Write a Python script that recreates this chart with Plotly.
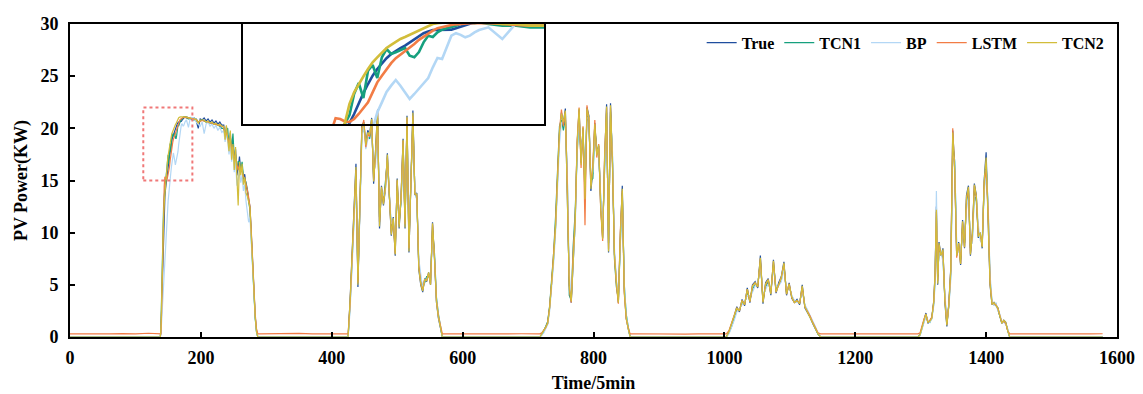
import plotly.graph_objects as go

# ---------------- time grid (index of 5-min steps) ----------------
t_n1 = [0, 20, 40, 60, 80, 100, 120, 137]
t_h1 = list(range(138, 177)) + list(range(178, 233, 3)) + list(range(235, 288, 2))
t_n2 = [290, 310, 330, 350, 370, 390, 410, 422]
t_h2 = list(range(425, 570, 3))
t_n3 = [572, 590, 610, 630, 650, 670, 690, 715]
t_h3 = list(range(718, 857, 3))
t_n4 = [860, 880, 900, 920, 940, 960, 980, 1000]
t_h4 = list(range(1003, 1148, 4))
t_n5 = [1150, 1170, 1190, 1210, 1230, 1250, 1270, 1293]
t_h5 = list(range(1296, 1321, 3)) + [1322, 1324, 1326, 1328] + list(range(1331, 1437, 3))
t_n6 = [1439, 1460, 1480, 1500, 1520, 1540, 1560, 1578]
time = t_n1 + t_h1 + t_n2 + t_h2 + t_n3 + t_h3 + t_n4 + t_h4 + t_n5 + t_h5 + t_n6

night0 = [0, 0, 0, 0, 0, 0, 0, 0]

# ---------------- True ----------------
true_h1 = [0.0, 0.5, 3.0, 6.0, 8.5, 10.5, 12.2, 13.4, 14.2, 14.6, 15.05, 15.6, 16.25, 16.85, 17.4, 17.9,
           18.3, 18.65, 18.95, 19.2, 19.4, 19.55, 19.7, 19.9, 20.1, 20.3, 20.45, 20.55, 20.64, 20.64, 20.64,
           20.64, 20.66, 20.75, 20.85, 20.95, 21.02, 21.08, 21.1,
           21.1, 21.0, 21.0, 20.9, 21.0, 20.7, 20.0, 20.9, 20.8, 21.0, 20.7, 20.9, 20.6, 20.8, 20.5, 20.7, 20.4, 20.6, 20.3,
           20.3, 19.0, 20.2, 19.4, 18.2, 19.6, 17.5, 18.8, 16.8, 18.0, 15.5, 16.2, 17.3, 15.8, 16.4, 15.0, 15.6,
           14.5, 14.0, 13.2, 12.5, 10.0, 7.0, 4.5, 2.0, 0.6, 0.0]
true_h2 = [0.0, 3.5, 7.8, 12.0, 16.6, 4.8, 13.0, 20.2, 20.6, 18.5, 19.8, 19.5, 21.0, 14.7, 18.0, 21.8, 10.4,
           14.5, 12.6, 14.2, 17.6, 13.0, 9.7, 11.5, 7.8, 15.2, 10.4, 13.6, 19.0, 10.4, 21.2, 8.1, 16.0, 21.7,
           13.6, 13.8, 6.5, 5.0, 4.3, 5.6, 5.3, 6.2, 5.0, 11.0, 7.5, 3.3, 1.8, 1.0, 0.0]
true_h3 = [0.0, 0.3, 0.6, 0.9, 1.3, 2.8, 5.0, 7.5, 10.5, 15.0, 19.5, 21.5, 20.5, 21.9, 14.0, 5.0, 3.3, 8.0,
           11.0, 18.5, 21.8, 16.7, 20.0, 13.5, 22.0, 21.2, 14.0, 16.0, 20.5, 17.5, 18.3, 12.5, 9.5, 17.0, 22.3,
           8.1, 22.4, 16.7, 8.0, 5.3, 3.3, 9.7, 14.5, 4.5, 1.8, 0.8, 0.0]
true_h4 = [0.0, 0.5, 1.2, 2.0, 2.9, 2.4, 3.6, 3.0, 4.7, 3.3, 5.0, 5.3, 4.7, 7.8, 3.2, 5.2, 5.6, 4.0, 7.4, 4.2,
           5.2, 5.8, 7.2, 4.0, 5.2, 3.7, 3.3, 3.6, 3.1, 5.0, 2.8, 2.4, 1.9, 1.3, 0.8, 0.3, 0.0]
true_h5 = [0.0, 0.2, 1.0, 1.6, 2.3, 1.3, 1.5, 1.8, 3.5, 6.2, 12.5, 5.0, 9.1, 7.8, 8.5, 3.3, 1.0, 3.2, 6.6,
           19.8, 16.1, 7.8, 9.1, 6.9, 11.2, 8.5, 13.6, 14.5, 7.8, 10.0, 14.7, 13.6, 9.5, 10.0, 8.5, 15.0, 17.7,
           11.9, 5.0, 3.1, 3.3, 3.0, 2.8, 2.0, 1.3, 1.6, 1.4, 0.6, 0.0]

# ---------------- TCN1 ----------------
tcn1_h1 = [0.0, 1.0, 4.5, 8.0, 10.5, 12.5, 13.5, 14.2, 14.6, 15.0, 15.54, 16.8, 17.46, 16.56, 18.2, 18.54,
           17.76, 19.0, 19.5, 19.2, 19.3, 19.45, 19.56, 19.1, 19.0, 19.32, 19.9, 20.3, 20.22, 20.5, 20.66,
           20.75, 20.82, 20.9, 21.02, 21.1, 21.1, 21.05, 21.1,
           21.0, 20.9, 20.9, 20.8, 20.8, 20.9, 20.6, 20.7, 20.8, 20.7, 20.6, 20.6, 20.5, 20.5, 20.4, 20.4, 20.3, 20.2, 20.0,
           20.0, 19.3, 19.8, 20.0, 18.0, 19.2, 18.0, 19.5, 17.2, 17.5, 16.0, 16.8, 16.8, 16.0, 16.8, 15.3, 15.2,
           14.8, 14.2, 13.0, 12.2, 9.5, 6.5, 4.0, 1.8, 0.5, 0.0]
tcn1_h2 = [0.0, 3.0, 7.0, 12.5, 15.5, 5.5, 12.0, 19.5, 20.0, 18.8, 19.2, 19.0, 20.3, 15.5, 17.2, 21.0, 11.5,
           13.8, 13.0, 14.8, 16.8, 13.5, 10.5, 11.0, 8.5, 14.5, 11.0, 13.0, 18.3, 11.2, 20.5, 9.0, 15.5, 20.8,
           14.0, 13.2, 7.0, 5.5, 4.8, 5.2, 5.8, 5.8, 5.5, 10.2, 8.0, 3.8, 2.2, 1.2, 0.0]
tcn1_h3 = [0.0, 0.2, 0.5, 1.0, 1.5, 3.0, 5.5, 8.0, 11.5, 16.0, 20.2, 20.8, 19.8, 21.0, 15.2, 4.0, 3.5, 8.8,
           12.0, 17.5, 21.0, 17.5, 19.5, 14.5, 21.2, 20.5, 15.0, 15.2, 19.8, 18.2, 17.5, 13.2, 10.2, 16.2, 21.5,
           9.0, 21.6, 17.2, 7.5, 4.8, 3.6, 9.0, 13.8, 5.0, 2.2, 1.0, 0.0]
tcn1_h4 = [0.0, 0.4, 1.0, 1.8, 2.6, 2.6, 3.3, 3.2, 4.3, 3.6, 4.6, 5.0, 5.0, 7.2, 3.6, 4.8, 5.3, 4.4, 6.9, 4.5,
           5.0, 5.5, 6.8, 4.3, 4.9, 3.9, 3.4, 3.4, 3.3, 4.6, 3.0, 2.5, 2.0, 1.4, 0.9, 0.3, 0.0]
tcn1_h5 = [0.0, 0.2, 0.9, 1.5, 2.1, 1.5, 1.4, 1.9, 3.2, 5.5, 11.5, 5.8, 8.2, 8.0, 7.6, 3.8, 1.3, 3.0, 6.0,
           18.5, 16.8, 8.5, 8.6, 7.4, 10.5, 9.0, 12.8, 14.0, 8.5, 9.4, 14.0, 13.0, 10.2, 9.6, 9.0, 14.2, 16.5,
           12.5, 5.5, 3.3, 3.1, 3.2, 2.6, 2.1, 1.4, 1.5, 1.3, 0.7, 0.0]

# ---------------- BP ----------------
bp_h1 = [0.0, 0.3, 1.5, 2.8, 4.2, 5.6, 7.0, 8.3, 9.5, 10.6, 11.6, 12.4, 13.1, 13.7, 14.2, 14.7, 15.7, 16.3,
         16.92, 17.3, 17.64, 17.3, 16.9, 16.5, 16.8, 17.1, 17.4, 17.76, 18.4, 18.96, 18.9, 19.6, 20.3, 20.45,
         20.35, 20.2, 20.3, 20.5, 20.64,
         20.8, 20.1, 21.05, 21.0, 21.0, 20.6, 20.4, 20.2, 20.6, 19.5, 20.4, 20.6, 20.2, 20.4, 20.0, 20.3, 19.8, 20.1, 19.6,
         19.8, 18.7, 19.5, 18.8, 17.5, 18.6, 16.8, 17.9, 15.8, 17.0, 14.5, 15.2, 16.0, 14.8, 15.5, 14.0, 14.6,
         13.0, 11.8, 11.0, 11.5, 9.0, 6.8, 4.4, 2.0, 0.6, 0.0]
bp_h2 = [0.0, 2.5, 6.5, 11.0, 15.0, 6.5, 11.5, 19.0, 20.3, 18.0, 19.0, 19.8, 20.0, 16.0, 16.5, 20.5, 12.0,
         14.0, 13.5, 14.0, 17.0, 14.0, 10.8, 11.2, 9.0, 14.0, 11.5, 13.2, 17.5, 12.0, 20.0, 9.8, 15.0, 20.2,
         14.5, 13.0, 7.5, 5.8, 4.6, 5.4, 5.5, 6.0, 5.2, 9.5, 7.8, 3.6, 2.0, 1.1, 0.0]
bp_h3 = [0.0, 0.2, 0.4, 0.8, 1.2, 2.5, 4.6, 7.0, 10.0, 14.2, 18.5, 20.5, 20.8, 20.8, 15.5, 6.0, 4.0, 7.5,
         10.5, 17.8, 21.2, 17.8, 19.2, 14.8, 21.0, 21.0, 15.5, 15.8, 19.5, 18.0, 17.8, 13.5, 10.5, 16.0, 21.5,
         9.5, 21.0, 17.8, 8.5, 5.5, 3.8, 8.8, 13.5, 5.2, 2.0, 0.9, 0.0]
bp_h4 = [0.0, 0.3, 0.9, 1.6, 2.4, 2.7, 3.1, 3.4, 4.0, 3.8, 4.3, 4.9, 5.2, 6.8, 4.0, 4.6, 5.1, 4.6, 6.5, 4.8,
         4.9, 5.3, 6.5, 4.6, 4.8, 4.0, 3.5, 3.3, 3.4, 4.4, 3.1, 2.6, 2.1, 1.5, 1.0, 0.4, 0.0]
bp_h5 = [0.0, 0.1, 0.8, 1.3, 2.0, 1.6, 1.4, 1.7, 3.0, 5.0, 14.0, 6.0, 8.0, 8.2, 7.2, 4.2, 1.5, 2.8, 5.5,
         17.5, 17.0, 9.0, 8.2, 7.8, 10.0, 9.4, 12.2, 13.5, 9.0, 9.0, 13.5, 13.5, 10.8, 9.2, 9.5, 13.8, 16.0,
         13.0, 6.0, 3.5, 3.0, 3.3, 2.5, 2.2, 1.5, 1.4, 1.2, 0.8, 0.0]

# ---------------- LSTM ----------------
lstm_n1 = [0.30, 0.28, 0.31, 0.29, 0.33, 0.30, 0.36, 0.30]
lstm_n2 = [0.29, 0.31, 0.30, 0.34, 0.29, 0.32, 0.30, 0.31]
lstm_n3 = [0.30, 0.28, 0.32, 0.30, 0.29, 0.33, 0.31, 0.30]
lstm_n4 = [0.31, 0.29, 0.30, 0.32, 0.28, 0.30, 0.31, 0.30]
lstm_n5 = [0.30, 0.32, 0.29, 0.31, 0.30, 0.28, 0.33, 0.30]
lstm_n6 = [0.30, 0.29, 0.31, 0.30, 0.32, 0.29, 0.30, 0.31]
lstm_h1 = [0.3, 0.3, 2.5, 6.0, 9.5, 12.5, 14.5, 15.35, 15.3, 15.15, 15.12, 15.3, 15.6, 15.95, 16.3, 16.9,
           17.5, 17.9, 18.3, 18.65, 18.95, 19.15, 19.35, 19.55, 19.8, 20.05, 20.25, 20.45, 20.6, 20.75, 20.82,
           20.88, 20.94, 20.98, 21.02, 21.05, 21.05, 21.05, 21.05,
           21.05, 21.0, 20.95, 20.9, 20.9, 20.85, 20.6, 20.7, 20.75, 20.7, 20.65, 20.6, 20.55, 20.5, 20.45, 20.4, 20.35, 20.3, 20.2,
           20.1, 19.4, 19.6, 19.2, 18.6, 18.9, 18.0, 18.2, 17.3, 17.2, 16.4, 16.0, 16.5, 16.0, 15.9, 15.4, 15.2,
           14.7, 14.1, 13.4, 12.5, 10.2, 7.2, 4.6, 2.2, 0.8, 0.3]
lstm_h2 = [0.3, 3.2, 7.5, 12.2, 16.0, 5.2, 12.5, 20.0, 20.8, 18.2, 19.5, 19.2, 20.8, 15.0, 17.5, 21.5, 11.0,
           14.2, 12.8, 14.5, 17.2, 13.2, 10.0, 11.2, 8.0, 15.0, 10.8, 13.5, 18.8, 10.8, 21.0, 8.5, 15.8, 21.2,
           13.8, 13.5, 6.8, 5.2, 4.5, 5.5, 5.4, 6.1, 5.1, 10.8, 7.6, 3.5, 2.0, 1.2, 0.3]
lstm_h3 = [0.3, 0.4, 0.6, 0.9, 1.4, 2.9, 5.2, 7.8, 10.8, 15.5, 19.8, 21.8, 20.2, 21.5, 14.5, 4.6, 3.3, 8.2,
           11.2, 18.8, 22.0, 16.2, 20.2, 10.7, 22.2, 20.8, 14.5, 16.5, 20.8, 17.2, 18.5, 12.2, 9.2, 17.5, 22.0,
           8.4, 22.0, 16.5, 7.8, 5.0, 3.2, 10.2, 14.0, 4.2, 1.7, 0.9, 0.3]
lstm_h4 = [0.3, 0.6, 1.3, 2.1, 2.8, 2.5, 3.5, 3.1, 4.6, 3.4, 4.9, 5.2, 4.8, 7.5, 3.4, 5.0, 5.5, 4.2, 7.2, 4.3,
           5.1, 5.7, 7.0, 4.1, 5.1, 3.8, 3.3, 3.5, 3.2, 4.8, 2.9, 2.5, 2.0, 1.4, 0.9, 0.4, 0.3]
lstm_h5 = [0.3, 0.4, 1.1, 1.7, 2.2, 1.4, 1.6, 1.9, 3.4, 6.0, 12.0, 5.4, 8.8, 7.9, 8.2, 3.6, 1.2, 3.1, 6.4,
           20.0, 15.8, 7.6, 9.0, 7.0, 11.0, 8.6, 13.2, 14.2, 8.0, 9.8, 14.5, 13.4, 9.8, 9.9, 8.7, 14.8, 16.0,
           12.2, 5.2, 3.2, 3.2, 3.1, 2.7, 2.0, 1.4, 1.5, 1.3, 0.6, 0.3]

# ---------------- TCN2 ----------------
tcn2_h1 = [0.0, 0.8, 4.0, 7.0, 9.5, 11.5, 12.8, 13.8, 14.5, 15.06, 16.2, 16.9, 17.4, 17.85, 18.3, 18.7, 19.0,
           19.3, 19.56, 19.75, 19.95, 20.1, 20.22, 20.35, 20.45, 20.62, 20.75, 20.88, 21.0, 21.05, 21.1, 21.1,
           21.1, 21.1, 21.1, 21.1, 21.1, 21.1, 21.1,
           21.1, 21.0, 21.0, 20.9, 20.9, 20.8, 20.5, 20.8, 20.8, 20.8, 20.6, 20.7, 20.5, 20.6, 20.4, 20.5, 20.3, 20.4, 20.2,
           20.2, 18.9, 20.3, 19.0, 17.8, 19.8, 17.0, 18.5, 16.0, 18.2, 14.5, 12.6, 16.8, 15.5, 16.6, 14.6, 15.3,
           13.8, 13.5, 12.8, 12.4, 9.8, 6.8, 4.3, 1.9, 0.5, 0.0]
tcn2_h2 = [0.0, 3.4, 7.6, 12.0, 16.3, 5.0, 12.8, 20.0, 20.5, 18.4, 19.6, 19.4, 20.9, 14.9, 17.8, 21.6, 10.6,
           14.4, 12.7, 14.3, 17.5, 13.1, 9.8, 11.4, 7.9, 15.1, 10.5, 13.5, 18.9, 10.5, 21.1, 8.2, 15.9, 21.5,
           13.7, 13.7, 6.6, 5.1, 4.4, 5.5, 5.4, 6.2, 5.0, 10.9, 7.6, 3.4, 1.9, 1.1, 0.0]
tcn2_h3 = [0.0, 0.3, 0.6, 0.9, 1.3, 2.8, 5.0, 7.6, 10.6, 15.2, 19.6, 21.4, 20.6, 21.7, 14.2, 4.9, 3.4, 8.1,
           11.1, 18.6, 21.9, 16.5, 20.1, 13.2, 21.9, 21.0, 14.2, 16.2, 20.4, 17.4, 18.4, 12.4, 9.4, 17.2, 22.1,
           8.2, 22.2, 16.6, 7.9, 5.2, 3.3, 9.8, 14.2, 4.4, 1.8, 0.8, 0.0]
tcn2_h4 = [0.0, 0.5, 1.2, 2.0, 2.8, 2.5, 3.5, 3.1, 4.6, 3.4, 4.9, 5.2, 4.8, 7.6, 3.3, 5.1, 5.5, 4.1, 7.3, 4.3,
           5.1, 5.7, 7.1, 4.1, 5.1, 3.8, 3.3, 3.5, 3.2, 4.9, 2.9, 2.4, 1.9, 1.3, 0.8, 0.3, 0.0]
tcn2_h5 = [0.0, 0.2, 1.0, 1.6, 2.2, 1.4, 1.5, 1.8, 3.4, 6.1, 12.2, 5.1, 9.0, 7.8, 8.4, 3.4, 1.1, 3.1, 6.5,
           19.6, 16.0, 7.8, 9.0, 7.0, 11.1, 8.6, 13.4, 14.4, 7.9, 9.9, 14.6, 13.5, 9.6, 10.0, 8.6, 14.9, 17.2,
           12.0, 5.1, 3.1, 3.3, 3.0, 2.8, 2.0, 1.3, 1.6, 1.4, 0.6, 0.0]

true_vals = night0 + true_h1 + night0 + true_h2 + night0 + true_h3 + night0 + true_h4 + night0 + true_h5 + night0
tcn1_vals = night0 + tcn1_h1 + night0 + tcn1_h2 + night0 + tcn1_h3 + night0 + tcn1_h4 + night0 + tcn1_h5 + night0
bp_vals = night0 + bp_h1 + night0 + bp_h2 + night0 + bp_h3 + night0 + bp_h4 + night0 + bp_h5 + night0
lstm_vals = (lstm_n1 + lstm_h1 + lstm_n2 + lstm_h2 + lstm_n3 + lstm_h3 + lstm_n4 + lstm_h4
             + lstm_n5 + lstm_h5 + lstm_n6)
tcn2_vals = night0 + tcn2_h1 + night0 + tcn2_h2 + night0 + tcn2_h3 + night0 + tcn2_h4 + night0 + tcn2_h5 + night0

names = ["True", "TCN1", "BP", "LSTM", "TCN2"]
colors = ["#1f4e9e", "#16a07e", "#b3d7f5", "#f27c45", "#d2bd3a"]
series = [true_vals, tcn1_vals, bp_vals, lstm_vals, tcn2_vals]
for s in series:
    assert len(s) == len(time), (len(s), len(time))

# highlighted region & inset view
zoom_box_x = [112, 187]
zoom_box_y = [15, 22]
inset_x_range = [125, 190]
inset_y_range = [15, 21]

x_ticks = [0, 200, 400, 600, 800, 1000, 1200, 1400, 1600]
y_ticks = [0, 5, 10, 15, 20, 25, 30]

FONT = "Liberation Serif"

fig = go.Figure()
for nm, col, ys in zip(names, colors, series):
    fig.add_trace(go.Scatter(x=time, y=ys, mode="lines", name=nm,
                             line=dict(color=col, width=1.2), xaxis="x", yaxis="y"))
for nm, col, ys in zip(names, colors, series):
    fig.add_trace(go.Scatter(x=time, y=ys, mode="lines", name=nm, showlegend=False,
                             line=dict(color=col, width=2.6), xaxis="x2", yaxis="y2"))

fig.add_shape(type="rect", xref="x", yref="y",
              x0=zoom_box_x[0], x1=zoom_box_x[1], y0=zoom_box_y[0], y1=zoom_box_y[1],
              line=dict(color="#f07878", width=2, dash="dot"))

tickfont = dict(family=FONT, size=18, color="black", weight="bold")
titlefont = dict(family=FONT, size=18, color="black", weight="bold")

# page body has an 8px default margin, so the figure is sized/offset to compensate
fig.update_layout(
    width=1135, height=386,
    margin=dict(l=62, r=26, t=16, b=57, autoexpand=False),
    paper_bgcolor="white", plot_bgcolor="rgba(0,0,0,0)",
    showlegend=True,
    legend=dict(orientation="h", x=0.993, xanchor="right", y=0.94, yanchor="middle",
                font=dict(family=FONT, size=16, color="black", weight="bold"),
                bgcolor="rgba(0,0,0,0)", itemwidth=30, tracegroupgap=0),
    xaxis=dict(range=[0, 1600], tickvals=x_ticks, ticks="inside", ticklen=5, tickwidth=1.5,
               tickcolor="black", showline=True, linewidth=2, linecolor="black", mirror=True,
               showgrid=False, zeroline=False, tickfont=tickfont, ticklabelstandoff=3,
               automargin=False,
               title=dict(text="Time/5min", font=titlefont, standoff=10), domain=[0, 1]),
    yaxis=dict(range=[0, 30], tickvals=y_ticks, ticks="inside", ticklen=5, tickwidth=1.5,
               tickcolor="black", showline=True, linewidth=2, linecolor="black", mirror=True,
               showgrid=False, zeroline=False, tickfont=tickfont, ticklabelstandoff=6,
               automargin=False,
               title=dict(text="PV Power(KW)", font=titlefont, standoff=8), domain=[0, 1]),
    xaxis2=dict(range=inset_x_range, domain=[0.1652, 0.4527], anchor="y2", showticklabels=False,
                ticks="", showline=True, linewidth=2, linecolor="black", mirror=True,
                showgrid=False, zeroline=False, automargin=False),
    yaxis2=dict(range=inset_y_range, domain=[0.6805, 1.0], anchor="x2", showticklabels=False,
                ticks="", showline=True, linewidth=2, linecolor="black", mirror=True,
                showgrid=False, zeroline=False, automargin=False),
)

fig.write_html("out.html")
